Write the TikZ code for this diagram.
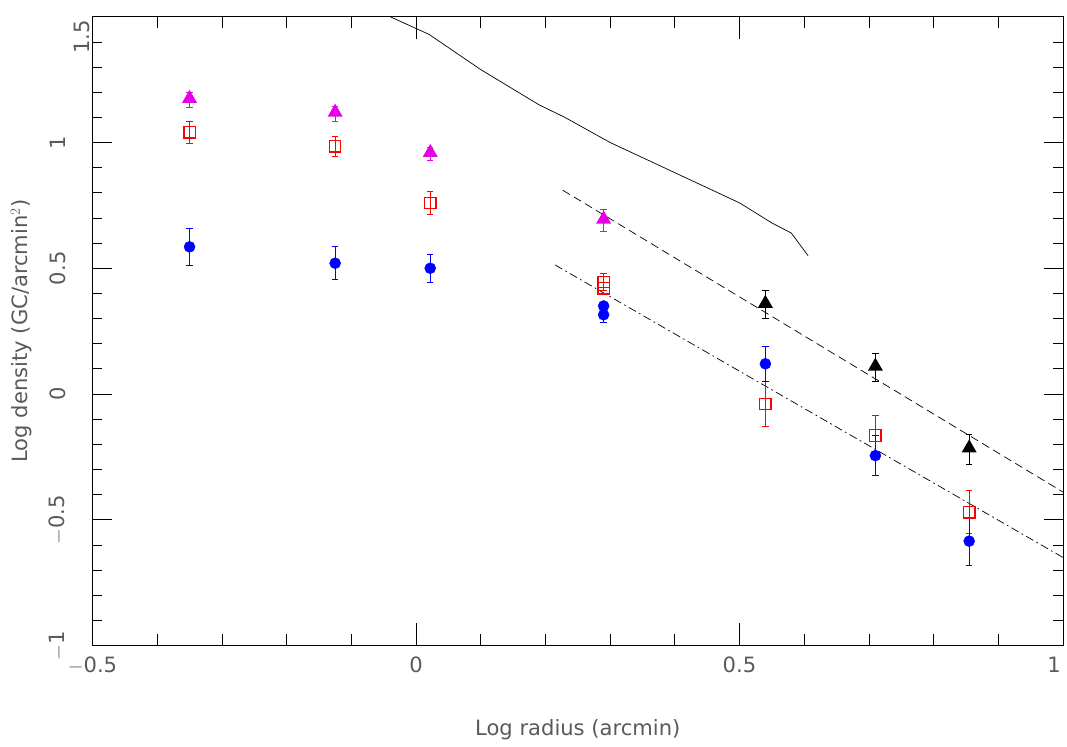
\documentclass[tikz,border=0pt]{standalone}
\usepackage{fontspec}
\setmainfont{DejaVu Sans}
\usetikzlibrary{shapes.geometric}
\definecolor{mag}{RGB}{230,0,230}
\definecolor{lab}{RGB}{90,90,90}
\tikzset{
 bl/.style={circle,fill=blue,draw=blue,inner sep=0pt,minimum size=0.33cm},
 rs/.style={rectangle,draw=red,line width=1.1pt,inner sep=0pt,minimum size=0.34cm},
 mt/.style={regular polygon,regular polygon sides=3,fill=mag,inner sep=0pt,minimum size=0.52cm},
 kt/.style={regular polygon,regular polygon sides=3,fill=black,inner sep=0pt,minimum size=0.52cm},
 tl/.style={font=\fontsize{18}{22}\selectfont,text=lab},
 eb/.style={line width=0.65pt}
}
\begin{document}
\begin{tikzpicture}
\useasboundingbox (0,0) rectangle (32.01,22.41);
\begin{scope}[shift={(12.48,10.59)},x=19.41cm,y=7.545cm]
\draw[line width=0.8pt] (-0.5,-1) rectangle (1,1.5);
% ticks
\foreach \i in {-5,...,10}{
 \pgfmathsetmacro\xx{\i/10}
 \pgfmathsetmacro\L{mod(\i+10,5)==0?0.09:0.045}
 \draw[line width=0.6pt] (\xx,-1) -- ++(0,\L) (\xx,1.5) -- ++(0,-\L);}
\foreach \i in {-10,...,15}{
 \pgfmathsetmacro\yy{\i/10}
 \pgfmathsetmacro\L{mod(\i+10,5)==0?0.03:0.015}
 \draw[line width=0.6pt] (-0.5,\yy) -- ++(\L,0) (1,\yy) -- ++(-\L,0);}
\node[tl,anchor=north] (xt1) at (-0.5,-1.03) {$-$0.5};
\node[tl,anchor=north] (xt2) at (0,-1.03) {0};
\node[tl,anchor=north] (xt3) at (0.5,-1.03) {0.5};
\node[tl,anchor=north east] (xt4) at (1.003,-1.03) {1};
\foreach \v/\t [count=\n] in {-1/$-$1,-0.5/$-$0.5,0/0,0.5/0.5,1/1}
 \node[tl,anchor=south,rotate=90] (yt\n) at (-0.535,\v) {\t};
\node[tl,anchor=north east,rotate=90] (yt6) at (-0.535,1.502) {1.5};
\node[tl] (xl) at (0.25,-1.336) {Log radius (arcmin)};
\node[tl,rotate=90] (yl) at (-0.61,0.25) {Log density (GC/arcmin$^2$)};
% model curve
\draw[line width=0.6pt] (-0.04,1.5) -- (0.02,1.43) -- (0.1,1.29) -- (0.19,1.15) -- (0.23,1.1) -- (0.3,1.0) -- (0.4,0.88) -- (0.5,0.76) -- (0.55,0.68) -- (0.58,0.64) -- (0.606,0.55);
\coordinate (d1) at (0.227,0.81); \coordinate (d2) at (1,-0.39);
\draw[dash pattern=on 7pt off 4pt,line width=0.6pt] (d1) -- (d2);
\coordinate (e1) at (0.215,0.513); \coordinate (e2) at (1,-0.65);
\draw[dash pattern=on 7pt off 3pt on 1.5pt off 3pt,line width=0.6pt] (e1) -- (e2);
% error bars
\begin{scope}[eb,draw=mag]
\foreach \x/\y/\e in {-0.35/1.17/0.03,-0.125/1.115/0.03,0.022/0.955/0.025,0.29/0.69/0.045}
 \draw[mag] (\x,\y-\e) -- (\x,\y+\e) (\x-0.005,\y-\e) -- (\x+0.005,\y-\e) (\x-0.005,\y+\e) -- (\x+0.005,\y+\e);
\end{scope}
\begin{scope}[eb]
\foreach \x/\y/\e in {-0.35/1.04/0.045,-0.125/0.985/0.04,0.022/0.76/0.045,0.29/0.445/0.035,0.54/-0.04/0.09,0.71/-0.165/0.08,0.855/-0.47/0.085}
 \draw[red] (\x,\y-\e) -- (\x,\y+\e) (\x-0.005,\y-\e) -- (\x+0.005,\y-\e) (\x-0.005,\y+\e) -- (\x+0.005,\y+\e);
\foreach \x/\y/\e in {-0.35/0.585/0.075,-0.125/0.52/0.065,0.022/0.50/0.055,0.29/0.315/0.03,0.54/0.12/0.07,0.71/-0.245/0.08,0.855/-0.585/0.095}
 \draw[blue] (\x,\y-\e) -- (\x,\y+\e) (\x-0.005,\y-\e) -- (\x+0.005,\y-\e) (\x-0.005,\y+\e) -- (\x+0.005,\y+\e);
\foreach \x/\y/\e in {0.54/0.355/0.055,0.71/0.105/0.055,0.855/-0.22/0.06}
 \draw[black] (\x,\y-\e) -- (\x,\y+\e) (\x-0.005,\y-\e) -- (\x+0.005,\y-\e) (\x-0.005,\y+\e) -- (\x+0.005,\y+\e);
\end{scope}
\foreach \x/\y [count=\n] in {-0.35/1.04,-0.125/0.985,0.022/0.76,0.29/0.445,0.29/0.42,0.54/-0.04,0.71/-0.165,0.855/-0.47}
 \node[rs] (r\n) at (\x,\y) {};
\foreach \x/\y [count=\n] in {-0.35/0.585,-0.125/0.52,0.022/0.50,0.29/0.35,0.29/0.315,0.54/0.12,0.71/-0.245,0.855/-0.585}
 \node[bl] (b\n) at (\x,\y) {};
\foreach \x/\y [count=\n] in {-0.35/1.175,-0.125/1.12,0.022/0.96,0.29/0.695}
 \node[mt] (m\n) at (\x,\y) {};
\foreach \x/\y [count=\n] in {0.54/0.36,0.71/0.11,0.855/-0.215}
 \node[kt] (k\n) at (\x,\y) {};
\end{scope}
\end{tikzpicture}
\end{document}
